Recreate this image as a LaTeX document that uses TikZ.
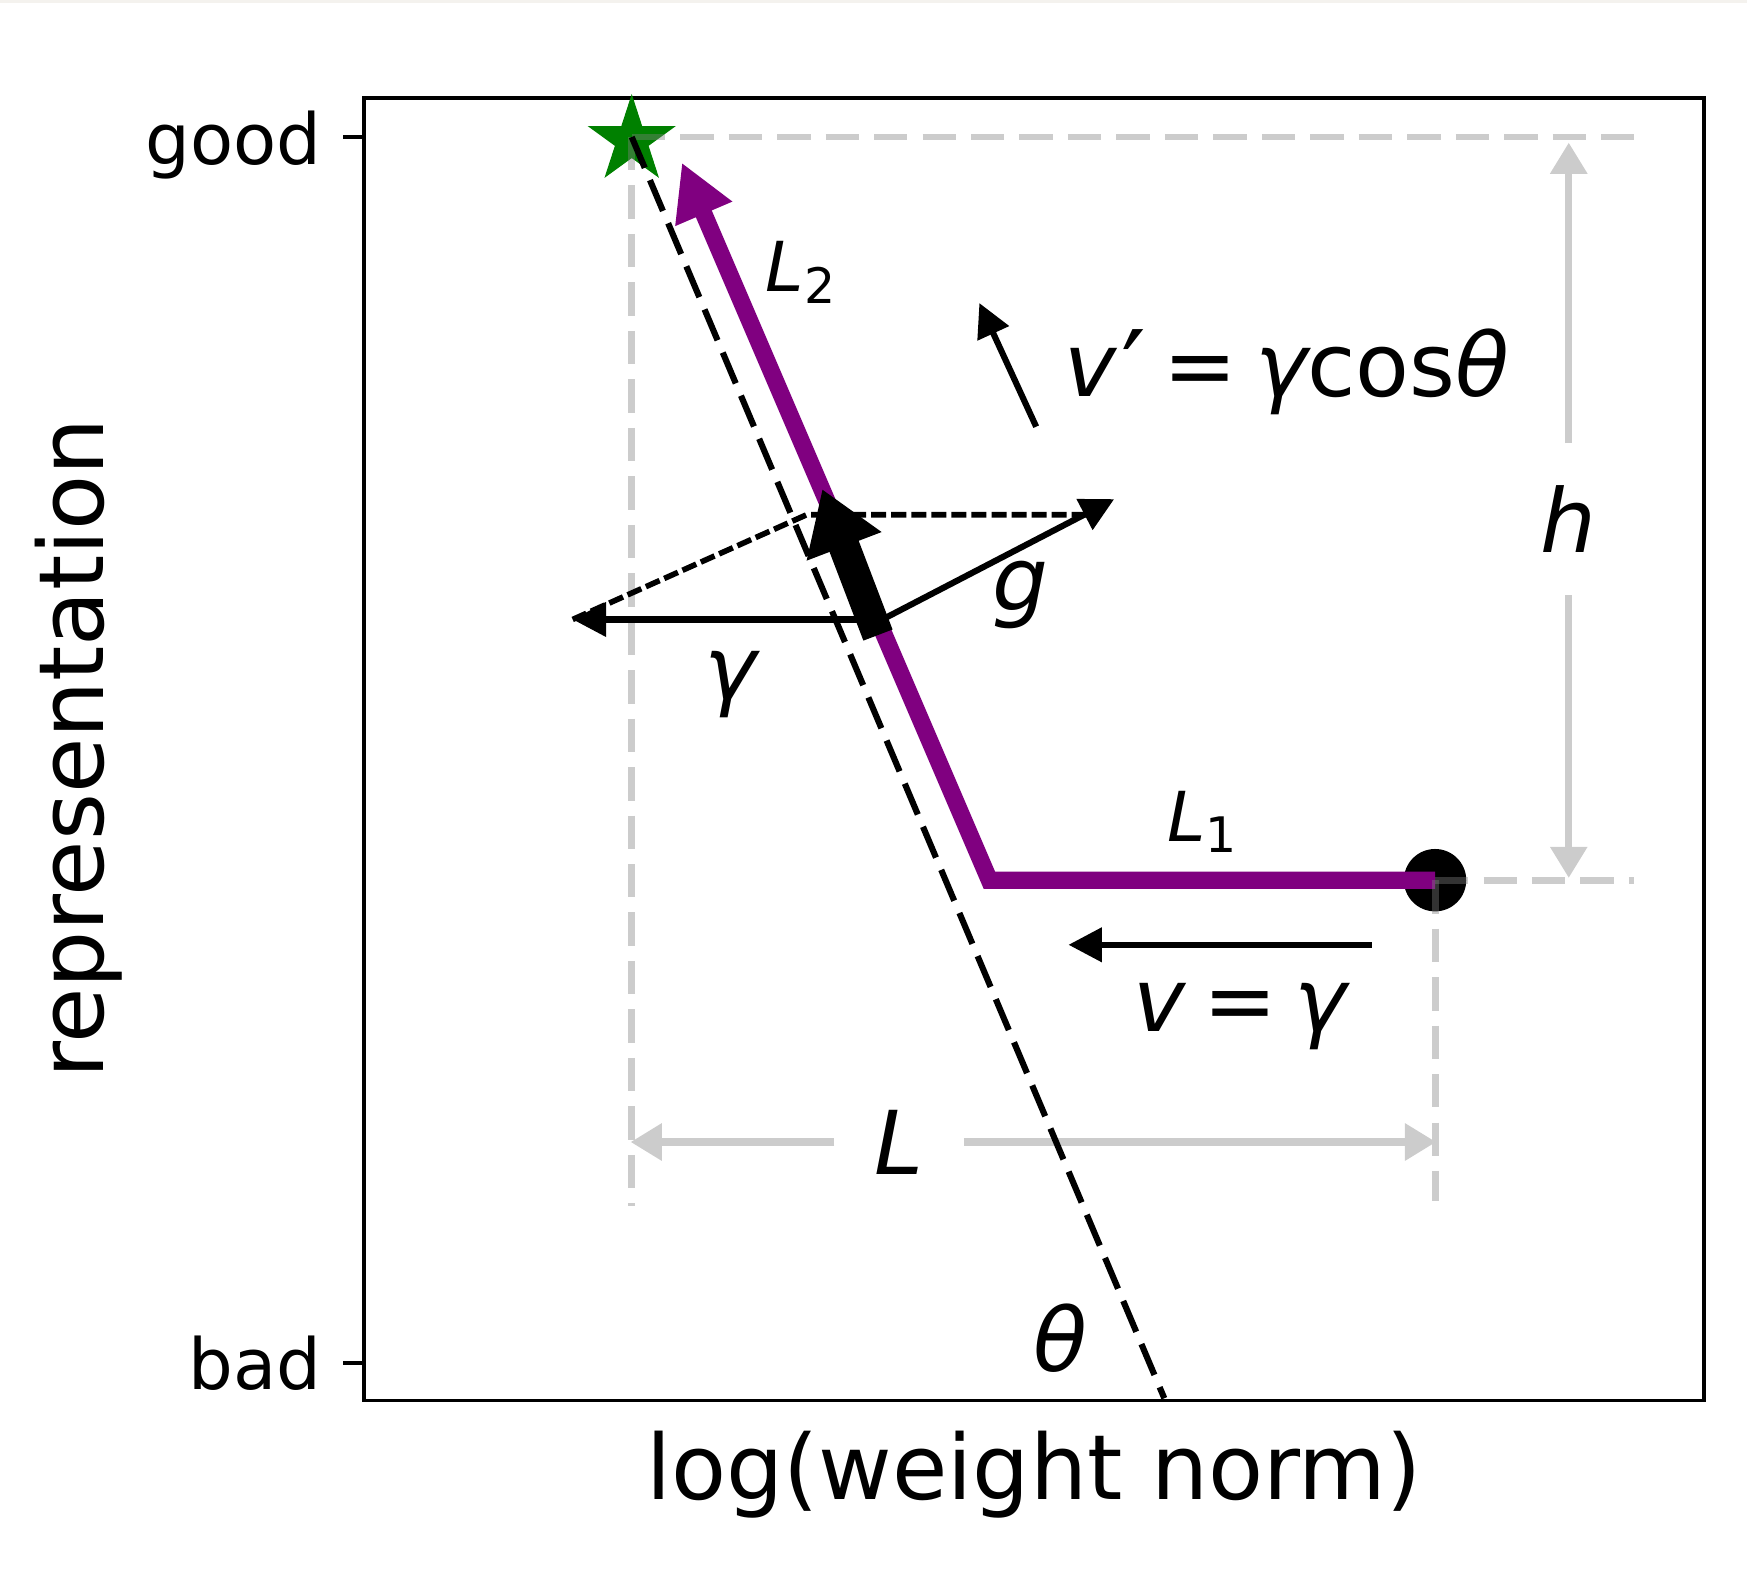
\documentclass[tikz,border=0pt]{standalone}
\usepackage{fontspec}
\setmainfont{DejaVu Sans}
\usetikzlibrary{arrows.meta,shapes.geometric}
\definecolor{pathcol}{RGB}{128,0,128}
\definecolor{optcol}{RGB}{0,128,0}
\definecolor{dimcol}{RGB}{204,204,204}
\definecolor{stripcol}{RGB}{244,242,238}
\newcommand{\eqsp}{\hspace{0.2em}=\hspace{0.2em}}
\newcommand{\bigprime}{\raisebox{-0.15em}{\fontsize{28pt}{28pt}\selectfont ′}}
\begin{document}
\begin{tikzpicture}[
  guide/.style={draw=gray, draw opacity=0.4, line width=0.062cm, dash pattern=on 0.3cm off 0.135cm},
  dimarrow/.style={draw=dimcol, line width=0.065cm, -{Triangle[length=0.28cm,width=0.32cm]}},
  vec/.style={line width=0.055cm, -{Triangle[length=0.3cm,width=0.3cm]}},
  helper/.style={line width=0.05cm, dash pattern=on 0.135cm off 0.045cm},
  ticklab/.style={font=\fontsize{18pt}{22pt}\selectfont, inner sep=0pt},
  axlab/.style={font=\fontsize{23pt}{27pt}\selectfont, inner sep=0pt},
  mathlab/.style={font=\fontsize{22.5pt}{27pt}\selectfont, inner sep=0pt},
  sublab/.style={font=\fontsize{17.6pt}{21pt}\selectfont, inner sep=0pt}]
  \useasboundingbox (0,0) rectangle (15.68,14.23);
  \fill[stripcol] (0,14.203) rectangle (15.68,14.23);
  % axes
  \draw[line width=0.035cm] (3.27,1.66) rectangle (15.29,13.35);
  \draw[line width=0.035cm] (3.08,13.00) -- (3.27,13.00);
  \draw[line width=0.035cm] (3.08,2.00) -- (3.27,2.00);
  \node[ticklab, anchor=base east] (good) at (2.89,12.75) {good};
  \node[ticklab, anchor=base east] (bad) at (2.89,1.755) {bad};
  \node[axlab, anchor=base] (xlab) at (9.28,0.77) {log(weight norm)};
  \node[axlab, anchor=base, rotate=90] (ylab) at (0.93,7.51) {representation};
  % points
  \coordinate (opt) at (5.67,13.00);
  \coordinate (init) at (12.88,6.33);
  \coordinate (bend) at (8.88,6.33);
  \coordinate (l2end) at (6.12,12.77);
  \coordinate (thetaend) at (10.45,1.68);
  \node[star, star points=5, star point ratio=2.618, minimum size=0.8cm, inner sep=0pt,
    fill=optcol, draw=optcol, line width=0.01cm] (optmark) at (5.67,12.97) {};
  \fill (init) circle (0.28);
  \draw[line width=0.155cm, pathcol, -{Triangle[length=0.5cm,width=0.52cm]}] (init) -- (bend) -- (l2end);
  % guides
  \draw[guide] (opt) -- (14.67,13.00);
  \draw[guide] (opt) -- (5.67,3.41);
  \draw[guide] (init) -- (14.67,6.33);
  \draw[guide] (init) -- (12.88,3.45);
  \coordinate (htop) at (14.08,12.95);
  \coordinate (hbot) at (14.08,6.35);
  \node[mathlab, minimum height=1.35cm] (hlab) at (14.08,9.57) {\itshape h};
  \draw[dimarrow] (hlab) -- (htop);
  \draw[dimarrow] (hlab) -- (hbot);
  \coordinate (lleft) at (5.66,3.98);
  \coordinate (lright) at (12.89,3.98);
  \node[mathlab, minimum width=1.15cm] (Llab) at (8.07,3.98) {\itshape L};
  \draw[dimarrow] (Llab) -- (lleft);
  \draw[dimarrow] (Llab) -- (lright);
  \draw[line width=0.055cm, dash pattern=on 0.3cm off 0.12cm] (opt) -- (thetaend);
  % vectors
  \coordinate (P) at (7.92,8.67);
  \coordinate (gtip) at (10.00,9.75);
  \coordinate (gammatip) at (5.14,8.67);
  \coordinate (R) at (7.24,9.61);
  \coordinate (gfoot) at (9.85,9.61);
  \draw[helper] (gammatip) -- (R) -- (gfoot);
  \draw[vec] (P) -- (gammatip);
  \draw[vec] (P) -- (gtip);
  \coordinate (vbase) at (7.88,8.53);
  \coordinate (vtip) at (7.38,9.84);
  \draw[line width=0.28cm, -{Triangle[length=0.55cm,width=0.68cm]}] (vbase) -- (vtip);
  \coordinate (vpfrom) at (9.30,10.40);
  \coordinate (vpto) at (8.79,11.51);
  \draw[vec] (vpfrom) -- (vpto);
  \coordinate (vfrom) at (12.31,5.75);
  \coordinate (vto) at (9.59,5.75);
  \draw[vec] (vfrom) -- (vto);
  % labels
  \node[sublab] (l2lab) at (7.185,11.785) {\itshape L\raisebox{-0.1cm}{\upshape\fontsize{12.5pt}{14pt}\selectfont 2}};
  \node[sublab] (l1lab) at (10.79,6.85) {\itshape L\raisebox{-0.1cm}{\upshape\fontsize{12.5pt}{14pt}\selectfont 1}};
  \node[mathlab, anchor=base west] (vplab) at (9.55,10.67) {{\itshape v}\kern0.05em\bigprime\eqsp{\itshape γ}cos{\itshape θ}};
  \node[mathlab, anchor=base] (vlab) at (11.13,4.97) {{\itshape v}\eqsp{\itshape γ}};
  \node[mathlab, anchor=base] (glab) at (9.16,8.75) {\itshape g};
  \node[mathlab, anchor=base] (gammalab) at (6.56,7.95) {\itshape γ};
  \node[mathlab, anchor=base] (thetalab) at (9.52,1.92) {\itshape θ};
\end{tikzpicture}
\end{document}
